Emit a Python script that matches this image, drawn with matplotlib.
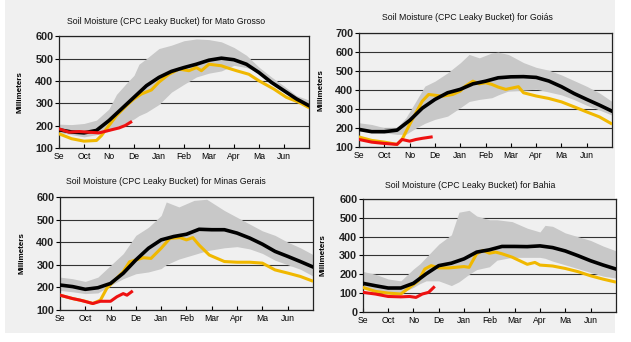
# Humedad del suelo (CPC Leaky Bucket) - cuatro estados de Brasil
import matplotlib
matplotlib.use("Agg")
import matplotlib.pyplot as plt
from matplotlib.patches import Rectangle

plt.rcParams['font.family'] = ['Liberation Sans', 'DejaVu Sans']

# ----------- Colores -------------
COLOR_BANDA = "#c8c8c8"
COLOR_MEDIA = "#000000"
COLOR_ANTERIOR = "#f0b800"
COLOR_ACTUAL = "#ee1111"
COLOR_FONDO = "#f0f0f0"

MESES = ["Se", "Oct", "No", "De", "Jan", "Feb", "Mar", "Apr", "Ma", "Jun"]

# posiciones en meses desde el 1 de septiembre (serie media)
X = [0, 0.5, 1, 1.5, 2, 2.5, 3, 3.5, 4, 4.5, 5, 5.5, 6, 6.5, 7, 7.5, 8, 8.5, 9, 9.5, 10]

# ----------------------- Mato Grosso ---------------
mt_x_banda = [0, 0.5, 1, 1.5, 2, 2.3, 2.7, 3, 3.2, 3.5, 4, 4.5, 5, 5.5, 6, 6.5, 7, 7.5, 8, 8.5, 9, 9.5, 10]
mt_sup = [207, 205, 210, 225, 275, 340, 390, 425, 475, 500, 545, 560, 580, 588, 585, 575, 550, 515, 462, 418, 378, 335, 315]
mt_inf = [170, 160, 150, 160, 175, 190, 215, 230, 245, 260, 295, 350, 385, 418, 435, 445, 470, 460, 438, 400, 350, 310, 275]
mt_media = [182, 172, 168, 179, 223, 275, 327, 379, 416, 443, 460, 475, 493, 502, 495, 475, 438, 394, 357, 320, 290]
mt_x_ant = [0, 0.5, 1, 1.5, 1.7, 2, 2.3, 2.7, 3, 3.3, 3.7, 4, 4.4, 4.8, 5.2, 5.5, 5.7, 6, 6.5, 6.7, 7.1, 7.6, 8, 8.6, 9.1, 9.6, 9.97]
mt_ant = [164, 142, 131, 134, 156, 201, 245, 290, 320, 342, 360, 395, 430, 453, 446, 460, 446, 475, 468, 460, 446, 430, 401, 364, 327, 305, 283]
mt_x_act = [0, 0.4, 0.8, 1.2, 1.6, 2, 2.4, 2.65, 2.87]
mt_act = [186, 171, 174, 171, 168, 179, 190, 201, 216]

# ----------------------- Goiás ---------------
go_x_banda = [0, 0.5, 1, 1.5, 1.85, 2.25, 2.6, 3, 3.5, 4, 4.35, 4.75, 5.25, 5.5, 5.9, 6.5, 7, 7.5, 8, 8.5, 9, 9.5, 10]
go_sup = [228, 219, 202, 202, 254, 342, 421, 447, 491, 544, 588, 570, 596, 600, 588, 545, 520, 505, 480, 450, 420, 385, 340]
go_inf = [184, 178, 175, 167, 167, 200, 225, 246, 263, 307, 340, 351, 360, 375, 395, 400, 405, 390, 375, 350, 320, 295, 268]
go_media = [193, 181, 181, 189, 240, 305, 351, 386, 404, 433, 447, 465, 470, 471, 467, 448, 418, 382, 351, 321, 289]
go_x_ant = [0, 0.5, 1, 1.5, 1.7, 2, 2.25, 2.5, 2.75, 3.3, 3.7, 4, 4.2, 4.5, 4.75, 5, 5.25, 5.5, 5.8, 6.3, 6.5, 7, 7.5, 8, 8.5, 9, 9.5, 9.95]
go_ant = [153, 135, 126, 114, 140, 219, 281, 342, 377, 368, 377, 395, 421, 447, 433, 439, 430, 416, 404, 418, 386, 369, 356, 338, 312, 285, 259, 225]
go_x_act = [0, 0.5, 1, 1.5, 1.7, 2, 2.25, 2.5, 2.85]
go_act = [140, 126, 119, 114, 140, 131, 140, 146, 153]

# ----------------------- Minas Gerais ---------------
mg_x_banda = [0, 0.5, 1, 1.5, 2, 2.5, 3, 3.5, 4, 4.2, 4.7, 5.3, 5.8, 6.5, 7, 7.5, 8, 8.5, 9, 9.5, 10]
mg_sup = [245, 238, 226, 245, 297, 349, 430, 466, 518, 578, 556, 585, 590, 540, 510, 480, 450, 430, 400, 375, 345]
mg_inf = [186, 180, 172, 175, 208, 238, 260, 268, 283, 300, 325, 345, 362, 375, 380, 370, 350, 320, 300, 280, 250]
mg_media = [210, 203, 191, 198, 217, 262, 321, 373, 410, 425, 435, 457, 455, 455, 440, 418, 391, 359, 337, 314, 290]
mg_x_ant = [0, 0.5, 1, 1.3, 1.6, 1.85, 2.1, 2.5, 2.75, 3, 3.3, 3.6, 4, 4.35, 4.75, 5, 5.25, 5.5, 5.9, 6.5, 7, 7.5, 8, 8.5, 9, 9.5, 9.95]
mg_ant = [165, 150, 138, 128, 143, 195, 224, 269, 313, 321, 331, 328, 373, 417, 420, 410, 420, 387, 343, 314, 311, 311, 307, 277, 263, 248, 229]
mg_x_act = [0, 0.5, 0.8, 1.3, 1.6, 2, 2.25, 2.5, 2.65, 2.83]
mg_act = [165, 150, 143, 128, 138, 138, 158, 172, 165, 180]

# ----------------------- Bahia ---------------
ba_x_banda = [0, 0.5, 1, 1.5, 2, 2.25, 2.5, 3, 3.5, 3.8, 4.2, 4.5, 5, 5.3, 5.9, 6.5, 7, 7.2, 7.5, 8, 8.5, 9, 9.5, 10]
ba_sup = [215, 200, 175, 165, 228, 255, 290, 360, 410, 530, 540, 510, 490, 490, 480, 445, 425, 460, 455, 420, 400, 380, 350, 325]
ba_inf = [130, 115, 100, 100, 130, 150, 165, 165, 140, 160, 200, 225, 240, 275, 290, 290, 290, 285, 270, 250, 230, 210, 190, 180]
ba_media = [152, 139, 127, 127, 152, 202, 246, 259, 282, 318, 330, 348, 348, 347, 351, 342, 324, 299, 272, 249, 228]
ba_x_ant = [0, 0.5, 1, 1.5, 1.85, 2.2, 2.45, 2.7, 3, 3.4, 4, 4.2, 4.5, 4.75, 5, 5.25, 5.5, 5.9, 6.5, 6.8, 7, 7.5, 8, 8.5, 9, 9.5, 9.95]
ba_ant = [130, 109, 100, 95, 130, 166, 228, 246, 234, 234, 241, 237, 309, 327, 312, 318, 309, 291, 253, 263, 249, 244, 231, 214, 192, 174, 160]
ba_x_act = [0, 0.5, 1, 1.5, 1.85, 2.1, 2.35, 2.6, 2.8]
ba_act = [104, 95, 82, 80, 82, 77, 95, 104, 130]

PANELES = [
    ("Mato Grosso", [0.0935, 0.567, 0.396, 0.327], (100, 600), mt_x_banda, mt_sup, mt_inf, mt_media,
     mt_x_ant, mt_ant, mt_x_act, mt_act, (166, 21), 20),
    ("Goiás", [0.569, 0.570, 0.401, 0.333], (100, 700), go_x_banda, go_sup, go_inf, go_media,
     go_x_ant, go_ant, go_x_act, go_act, (467, 17), 321),
    ("Minas Gerais", [0.095, 0.094, 0.401, 0.330], (100, 600), mg_x_banda, mg_sup, mg_inf, mg_media,
     mg_x_ant, mg_ant, mg_x_act, mg_act, (166, 181), 22),
    ("Bahia", [0.575, 0.088, 0.401, 0.330], (0, 600), ba_x_banda, ba_sup, ba_inf, ba_media,
     ba_x_ant, ba_ant, ba_x_act, ba_act, (470, 185), 323),
]


def dibujar_panel(fig, panel):
    (nombre, pos, ylim, x_banda, sup, inf, media, x_ant, ant, x_act, act, pos_tit, x_ylab) = panel
    ax = fig.add_axes(pos)
    ax.set_facecolor(COLOR_FONDO)
    ax.fill_between(x_banda, inf, sup, color=COLOR_BANDA, lw=0, zorder=1)
    ax.plot(x_ant, ant, color=COLOR_ANTERIOR, lw=2.2, zorder=3)
    ax.plot(X, media, color=COLOR_MEDIA, lw=2.6, zorder=4)
    ax.plot(x_act, act, color=COLOR_ACTUAL, lw=2.2, zorder=5)

    ax.set_xlim(0, 10)
    ax.set_ylim(*ylim)
    ax.set_yticks(range(ylim[0], ylim[1] + 1, 100))
    ax.yaxis.grid(True, color="#333333", lw=0.8)
    ax.set_axisbelow(True)
    ax.set_xticks(range(10))
    ax.set_xticklabels(MESES, fontsize=6.2)
    ax.tick_params(axis="x", direction="in", length=3, pad=3)
    ax.tick_params(axis="y", length=3, pad=1, labelsize=7.8)
    for t in ax.get_yticklabels():
        t.set_fontweight("bold")
        t.set_color("#222222")
    for s in ax.spines.values():
        s.set_color("#222222")
        s.set_linewidth(0.9)

    W, H = fig.get_size_inches() * fig.dpi
    fig.text(pos_tit[0] / W, 1 - pos_tit[1] / H, f"Soil Moisture (CPC Leaky Bucket) for {nombre}",
             ha="center", va="center", fontsize=6.3, color="#111111")
    fig.text(x_ylab / W, pos[1] + pos[3] / 2, "Millimeters", rotation=90, ha="center",
             va="center", fontsize=5.8, fontweight="bold")


if __name__ == "__main__":
    fig = plt.figure(figsize=(6.31, 3.42), dpi=100, facecolor="white")
    fig.patches.append(Rectangle((5 / 631, 9 / 342), 610 / 631, 333 / 342, transform=fig.transFigure,
                                 facecolor=COLOR_FONDO, edgecolor="none", zorder=-10))
    for panel in PANELES:
        dibujar_panel(fig, panel)
    fig.savefig("out.png", dpi=100, facecolor=fig.get_facecolor())
